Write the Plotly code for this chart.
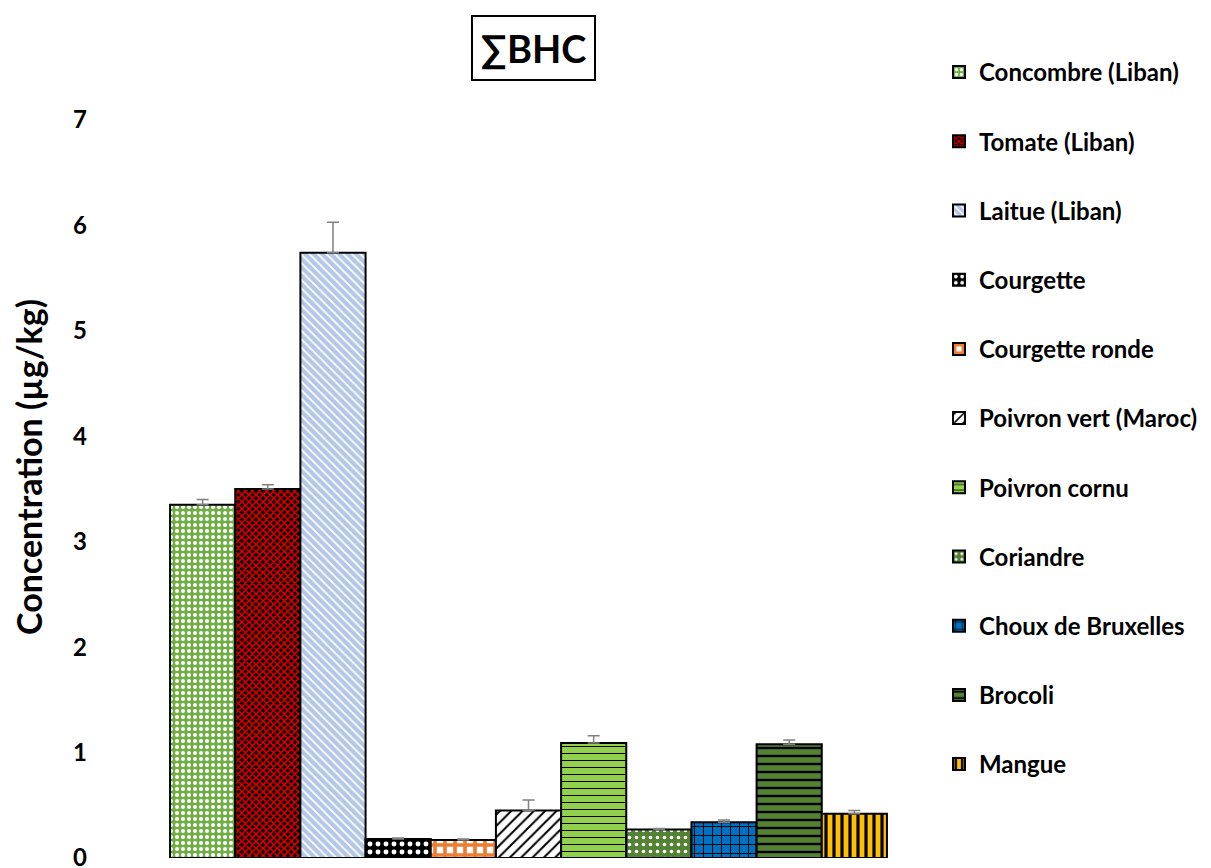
import plotly.graph_objects as go

categories = ["Concombre (Liban)", "Tomate (Liban)", "Laitue (Liban)", "Courgette",
              "Courgette ronde", "Poivron vert (Maroc)", "Poivron cornu", "Coriandre",
              "Choux de Bruxelles", "Brocoli", "Mangue"]
values = [3.35, 3.50, 5.74, 0.18, 0.17, 0.45, 1.09, 0.27, 0.34, 1.08, 0.42]
errors = [0.05, 0.04, 0.29, 0.01, 0.01, 0.10, 0.07, 0.01, 0.02, 0.04, 0.03]
group_label = ["∑BHC"]
y_tick_values = [0, 1, 2, 3, 4, 5, 6, 7]

bg_colors = ["#70AD47", "#000000", "#B4C7E7", "#000000", "#FFFFFF", "#FFFFFF",
             "#92D050", "#548235", "#0070C0", "#548235", "#FFC000"]
fg_colors = ["#FFFFFF", "#E00000", "#FFFFFF", "#FFFFFF", "#ED7D31", "#000000",
             "#000000", "#FFFFFF", "#000000", "#000000", "#000000"]
shapes = [".", "x", "\\", ".", "+", "/", "-", ".", "+", "-", "|"]
sizes = [6, 5, 6, 8, 10, 8, 7, 7, 9, 8, 8]
solid = [0.35, 0.55, 0.3, 0.3, 0.6, 0.25, 0.15, 0.2, 0.2, 0.3, 0.4]

FONT = "Lato"
H_PLOT = 868 - 120 - 10

fig = go.Figure()
for i, name in enumerate(categories):
    fig.add_trace(go.Bar(
        x=group_label, y=[values[i]], name=name, legendgroup=name,
        marker=dict(color=bg_colors[i],
                    line=dict(color="#000000", width=2),
                    pattern=dict(shape=shapes[i], fgcolor=fg_colors[i], bgcolor=bg_colors[i],
                                 size=sizes[i], solidity=solid[i], fillmode="replace")),
        error_y=dict(type="data", symmetric=False, array=[errors[i]], arrayminus=[0],
                     color="#808080", thickness=1.5, width=6),
    ))

fig.update_layout(
    width=1211, height=868,
    margin=dict(l=150, r=304, t=120, b=10, autoexpand=False),
    plot_bgcolor="white", paper_bgcolor="white",
    barmode="group", bargap=0.053, bargroupgap=0,
    font=dict(family=FONT, color="#000000"),
    showlegend=True,
    legend=dict(x=(939 - 150) / 757, xanchor="left", y=(858 - 50) / H_PLOT, yanchor="top",
                traceorder="grouped", tracegroupgap=35, maxheight=860,
                font=dict(family=FONT, size=24, weight="bold", color="#000000"),
                bgcolor="rgba(0,0,0,0)"),
    annotations=[
        dict(text="<b>∑BHC</b>", xref="paper", yref="paper", x=0.507,
             y=(858 - 48.5) / H_PLOT,
             xanchor="center", yanchor="middle", showarrow=False,
             font=dict(family=FONT, size=38, color="#000000"),
             bordercolor="#000000", borderwidth=2, borderpad=8, bgcolor="white"),
        dict(text="<b>Concentration (µg/kg)</b>", xref="paper", yref="paper",
             x=-121 / 757, y=(858 - 467) / H_PLOT, xanchor="center", yanchor="middle",
             textangle=-90, showarrow=False,
             font=dict(family=FONT, size=34, color="#000000")),
    ],
)
fig.update_xaxes(showticklabels=False, showgrid=False, zeroline=False, showline=False,
                 ticks="", automargin=False)
fig.update_yaxes(range=[0, 7], tickvals=y_tick_values, showgrid=False, zeroline=False,
                 showline=False, ticks="", ticklabelstandoff=62, ticklabeloverflow="allow",
                 automargin=False,
                 tickfont=dict(family=FONT, size=24, weight="bold", color="#000000"))

fig.write_html("out.html", config={"displayModeBar": False},
               post_script="document.body.style.margin='0px';")
